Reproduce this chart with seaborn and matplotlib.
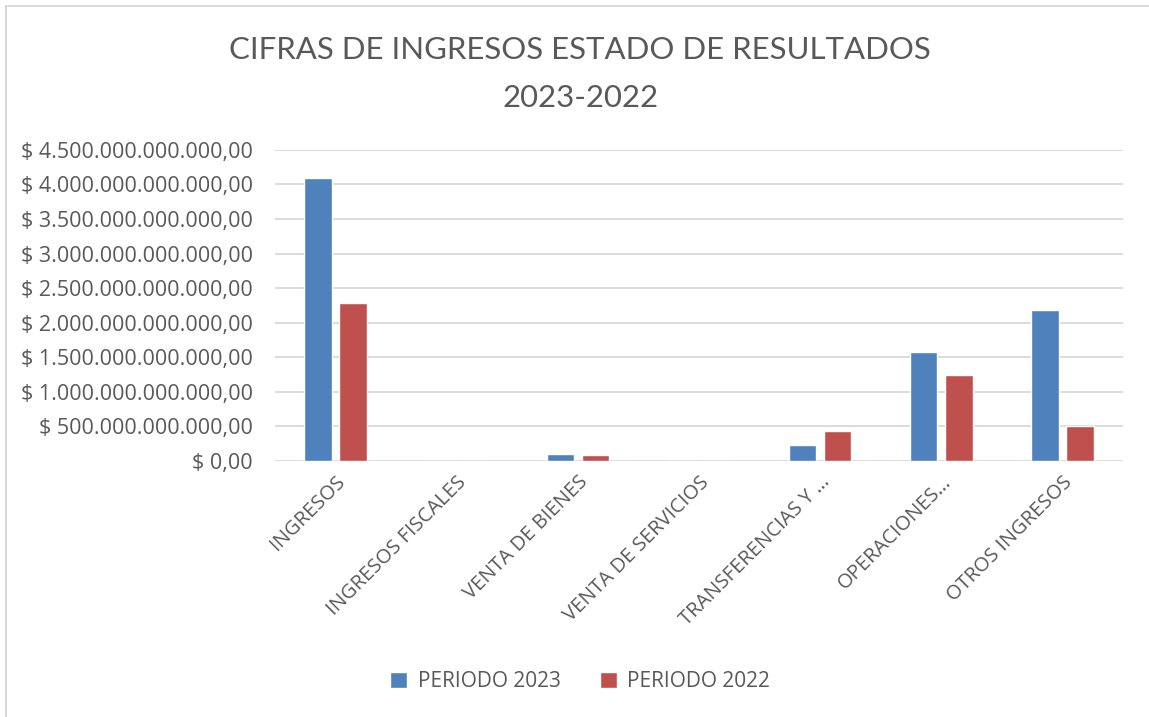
import pandas as pd
import numpy as np
import seaborn as sns
import matplotlib.pyplot as plt
from matplotlib.ticker import FuncFormatter
from matplotlib.patches import Rectangle

#%% Data
categorias = ["INGRESOS", "INGRESOS FISCALES", "VENTA DE BIENES", "VENTA DE SERVICIOS",
              "TRANSFERENCIAS Y …", "OPERACIONES…", "OTROS INGRESOS"]
periodo_2023 = [4.09e12, 0, 0.097e12, 0, 0.227e12, 1.57e12, 2.19e12]
periodo_2022 = [2.29e12, 0, 0.082e12, 0, 0.440e12, 1.25e12, 0.50e12]
series = ["PERIODO 2023", "PERIODO 2022"]
colores = ["#4F81BD", "#C0504D"]

df = pd.DataFrame({"categoria": categorias * 2,
                   "valor": periodo_2023 + periodo_2022,
                   "serie": [series[0]] * len(categorias) + [series[1]] * len(categorias)})

#%% Plot
sns.set_theme(style="white")
plt.rcParams['font.family'] = ['Open Sans', 'DejaVu Sans']
gris = "#595959"

fig = plt.figure(figsize=(11.49, 7.17), dpi=100)
ax = fig.add_axes([0.2393, 0.357, 0.7381, 0.434])

sns.barplot(data=df, x="categoria", y="valor", hue="serie", palette=colores,
            width=0.58, gap=0.22, ax=ax, saturation=1, legend=True)

def pesos(v, pos):
    s = f"{v:,.2f}".replace(",", "X").replace(".", ",").replace("X", ".")
    return "$ " + s

ax.set_ylim(0, 4.5e12)
ax.set_yticks(np.arange(0, 4.5e12 + 1, 0.5e12))
ax.yaxis.set_major_formatter(FuncFormatter(pesos))
ax.grid(axis="y", color="#D9D9D9", linewidth=1.3)
ax.set_axisbelow(True)
for s in ax.spines.values():
    s.set_visible(False)
ax.set_xlabel("")
ax.set_ylabel("")
ax.tick_params(axis="y", labelsize=15.5, colors=gris, length=0, pad=16)
ax.tick_params(axis="x", labelsize=14.5, colors=gris, length=0, pad=8)
plt.setp(ax.get_xticklabels(), rotation=45, ha="right", rotation_mode="anchor")

fig.text(0.505, 0.93, "CIFRAS DE INGRESOS ESTADO DE RESULTADOS", ha="center", va="center",
         fontsize=22.4, color=gris, family=["Lato", "DejaVu Sans"])
fig.text(0.505, 0.864, "2023-2022", ha="center", va="center",
         fontsize=22.4, color=gris, family=["Lato", "DejaVu Sans"])

ax.legend(loc="center", bbox_to_anchor=(0.505, 0.049), bbox_transform=fig.transFigure,
          ncol=2, frameon=False, fontsize=15, labelcolor=gris, handlelength=0.8,
          handleheight=0.8, handletextpad=0.5, columnspacing=1.9)

# marco del grafico
fig.patches.append(Rectangle((0.0055, -0.01), 1.1, 1.001, transform=fig.transFigure,
                             fill=False, edgecolor="#D9D9D9", linewidth=1.5))

fig.savefig("out.png", dpi=100, facecolor="white")
